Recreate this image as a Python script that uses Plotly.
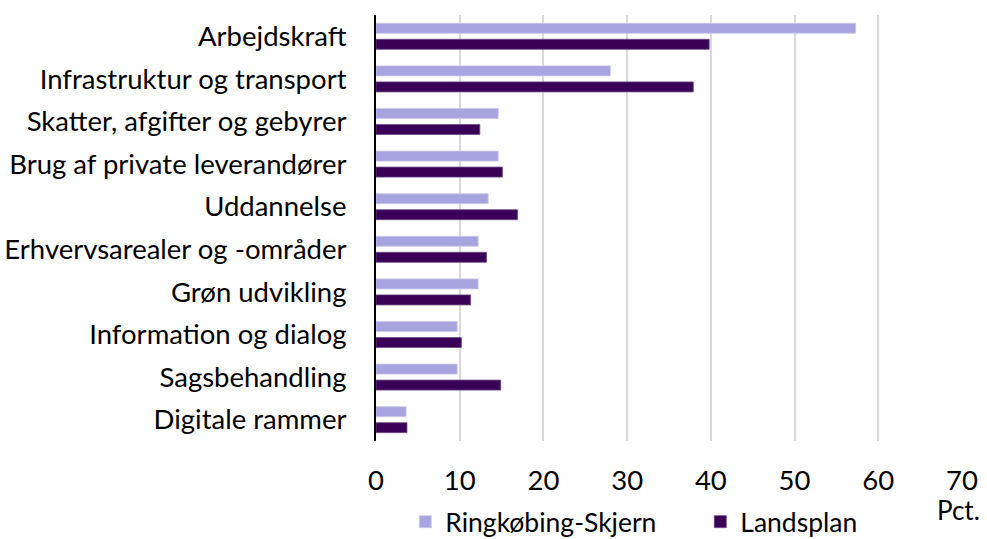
import plotly.graph_objects as go

categories = [
    "Arbejdskraft",
    "Infrastruktur og transport",
    "Skatter, afgifter og gebyrer",
    "Brug af private leverandører",
    "Uddannelse",
    "Erhvervsarealer og -områder",
    "Grøn udvikling",
    "Information og dialog",
    "Sagsbehandling",
    "Digitale rammer",
]
ringkobing = [57.3, 28.0, 14.6, 14.6, 13.4, 12.2, 12.2, 9.7, 9.7, 3.6]
landsplan = [39.8, 37.9, 12.4, 15.1, 16.9, 13.2, 11.3, 10.2, 14.9, 3.7]
x_ticks = [0, 10, 20, 30, 40, 50, 60, 70]

FONT = "Lato"
FS = 27.5
fig = go.Figure()
fig.add_trace(go.Bar(
    y=categories, x=ringkobing, orientation="h", name="Ringkøbing-Skjern",
    marker=dict(color="#A8A4DF", line=dict(color="#C9C6EE", width=0.8)),
))
fig.add_trace(go.Bar(
    y=categories, x=landsplan, orientation="h", name="Landsplan",
    marker=dict(color="#3A0057", line=dict(color="#6A4A85", width=0.8)),
))

fig.update_layout(
    width=987, height=539,
    margin=dict(l=376, r=25, t=15, b=98, autoexpand=False),
    paper_bgcolor="white", plot_bgcolor="white",
    barmode="group", bargap=0.249, bargroupgap=0.375,
    font=dict(family=FONT, size=FS, color="#000000"),
    showlegend=True,
    legend=dict(
        orientation="h", x=0.05, xanchor="left", y=-0.19, yanchor="middle",
        font=dict(family=FONT, size=26.5, color="#000000"),
        entrywidth=250, itemwidth=30, traceorder="normal",
        bgcolor="rgba(0,0,0,0)",
    ),
    annotations=[dict(
        text="Pct.", xref="paper", yref="paper", x=1.034, y=-0.163,
        xanchor="right", yanchor="middle", showarrow=False,
        font=dict(family=FONT, size=26, color="#000000"),
    )],
)
fig.update_xaxes(
    range=[0, 70], tickvals=x_ticks, showgrid=True, gridcolor="#D9D9D9",
    gridwidth=1.5, zeroline=False, showline=False, automargin=False,
    ticks="outside", ticklen=15, tickcolor="rgba(0,0,0,0)",
    tickfont=dict(family=FONT, size=FS, color="#000000"),
)
fig.update_yaxes(
    autorange="reversed", showline=True, linecolor="#000000", linewidth=2,
    showgrid=False, automargin=False, ticks="outside", ticklen=22,
    tickcolor="rgba(0,0,0,0)",
    tickfont=dict(family=FONT, size=FS, color="#000000"),
)

fig.write_html(
    "out.html",
    config={"displayModeBar": False},
    post_script="document.body.style.margin='0px';document.body.style.overflow='hidden';",
)
